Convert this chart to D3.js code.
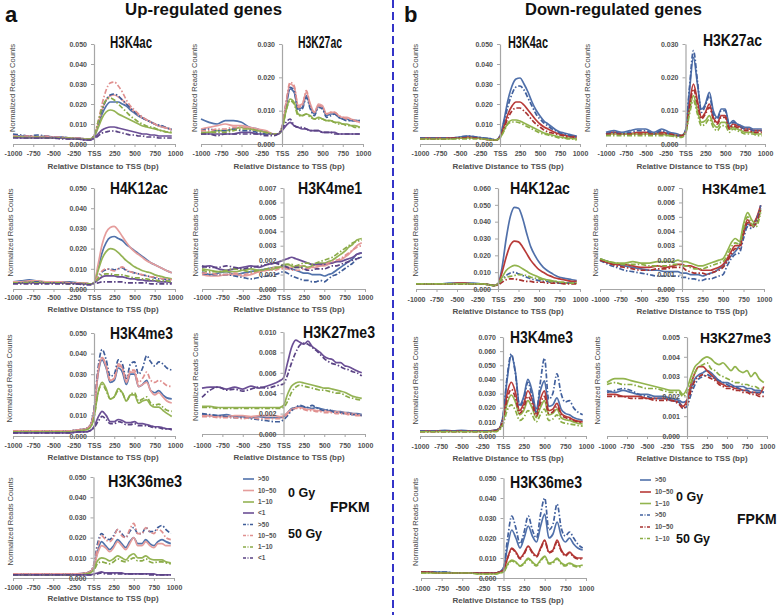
<!DOCTYPE html>
<html><head><meta charset="utf-8">
<script src="https://cdn.jsdelivr.net/npm/d3@7"></script>
<style>
body{margin:0;background:#fff}
svg{display:block}
text{font-family:"Liberation Sans",Arial,Helvetica,sans-serif}
</style></head>
<body><svg id="c" width="778" height="615"></svg>
<script>
// ---------- shared data ----------
// relative distance to TSS (bp)
const X = [-1000,-900,-800,-700,-600,-500,-400,-300,-200,-100,-50,0,50,100,150,200,250,300,350,400,450,500,550,600,650,700,750,800,850,900,960];
const XTICKS = [-1000,-750,-500,-250,0,250,500,750,1000];
const XTICK_LABELS = ["-1000","-750","-500","-250","TSS","250","500","750","1000"];
// series order, panel a: 0 Gy (>50,10~50,1~10,<1), 50 Gy (>50,10~50,1~10,<1)
const A_GROUPS = [">50","10~50","1~10","<1",">50","10~50","1~10","<1"];
const A_DOSE = ["0 Gy","0 Gy","0 Gy","0 Gy","50 Gy","50 Gy","50 Gy","50 Gy"];
// series order, panel b: 0 Gy (>50,10~50,1~10), 50 Gy (>50,10~50,1~10)
const B_GROUPS = [">50","10~50","1~10",">50","10~50","1~10"];
const B_DOSE = ["0 Gy","0 Gy","0 Gy","50 Gy","50 Gy","50 Gy"];

// values in units of 0.001 normalized reads counts
const up_H3K4ac = [
 [4.5,4,4,3.5,4,3.5,3.5,3,3,2.5, 2.5,4, 9,15,19,21,21,21,20,19,17,15.5,14,13,12,11,10,9,8.5,8,7],
 [4,3.5,4,3.5,3.5,3.5,3,3,3,2.5, 2.5,4, 10,17,22,24,24.5,23.5,22,20,18,16,14.5,13,12,11,10,9,8.5,8,7],
 [3.5,3.5,3.5,3,3.5,3,3,3,2.5,2.5, 2.5,3.5, 8,13,16,17,16.5,15,14,13,12,11,10,9,8.5,8,7.5,7,6.5,6,5.5],
 [3.5,3,3,3,3,3,3,2.5,2.5,2, 2,3, 5,7,8,8.5,8.5,8,7.5,7,6.5,6,5.5,5,5,4.5,4.5,4,4,4,4],
 [5,4.5,4,4.5,4,3.5,3.5,3,3,2.5, 2.5,4, 10,17,22,24.5,25,24,22,20,18,16,14.5,13,12,11,10,9.5,9,8,7.5],
 [4,4,4,3.5,4,3.5,3.5,3,3,2.5, 2.5,4, 11,20,27,30.5,31,29,26,22,19,17,15,13.5,12,11,10,9,8.5,8,7.5],
 [3.5,3.5,3,3.5,3,3,3,3,2.5,2.5, 2.5,4, 11,18,22,23,22,20,18,16,14,12.5,11,10,9,8.5,8,7,6.5,6,6],
 [3,3,3,3,3,3,2.5,2.5,2.5,2, 2,2.5, 4,5.5,6,6.5,6.5,6,5.5,5,4.5,4.5,4,4,3.5,3.5,3.5,3,3,3,3]
];
const up_H3K27ac = [
 [7.5,6.5,6,7,7,6.5,5,4.5,3.5,3, 3,4.5, 11,16.5,15.5,10.5,11,14.5,11,9,11.5,11,8.5,9,9,8,7.5,7.5,7,7,7],
 [4.5,5,5.5,6,5.5,5.5,5,4.5,4,3, 3,5, 12,18,17,11.5,12,15.5,12,9.5,12,11.5,9,9.5,9.5,8.5,8,8,7.5,7,6.5],
 [3.5,3.5,4,4,4.5,5,4.5,4,3.5,3, 3,4.5, 10,13.5,12.5,9,8.5,9,8.5,7.5,8,7.5,7,7,6.5,6.5,6,6,5.5,5.5,5],
 [3,3,3,3,3,3.5,3.5,3,3,3, 3,4, 5.5,6.5,5.5,5,4.5,4.5,4,4,4,3.5,3.5,3.5,3.5,3,3,3,3,3,3],
 [4,4.5,4,4,4.5,4,4,3.5,3,3, 3,5, 12,17,16,10,10.5,14,10.5,8.5,11,10.5,8,8.5,9,8,7.5,7,7,7,7],
 [4,4,4.5,4.5,5,5,4.5,4,3.5,3, 3,5, 12.5,18.5,17.5,11,11.5,16,11.5,9.5,11.5,11,9,9.5,9.5,8.5,8,7.5,7.5,7,6.5],
 [3,3.5,3.5,3.5,4,4.5,4.5,4,3.5,3, 3,4.5, 10,13,12,8.5,8.5,9,8,7.5,7.5,7.5,7,7,6.5,6,6,5.5,5.5,5,5],
 [3,3,2.5,3,3,3,3,3,2.5,2.5, 3,4.5, 6.5,7.5,5.5,5,5,4.5,4,4,4,3.5,3.5,3.5,3,3,3,3,3,3,3]
];
const up_H4K12ac = [
 [3.5,4,4.5,4,3.5,3.5,3.5,3.5,3,3, 2.5,3, 10,18,23,25.5,26,25,24,22,20.5,19,17.5,16,14.5,13,12,11,10,9,8],
 [3.5,3.5,4,4,3.5,3.5,3.5,3,3,3, 2.5,3, 12,22,28,30.5,31,29,26,23,20.5,18.5,17,15.5,14,13,12,11,10,9,8],
 [3,3,3.5,3.5,3,3,3,3,3,2.5, 2.5,3, 9,15,18.5,20,19.5,18,16,14,12.5,11,10,9,8.5,8,7,6.5,6,5.5,5],
 [3,3,3,3,3,3,3,3,2.5,2.5, 2.5,3, 4.5,6,6.5,6.5,6.5,6,6,5.5,5,5,4.5,4.5,4,4,4,3.5,3.5,3.5,3],
 [3,3,3.5,3.5,3,3,3,3,3,2.5, 2.5,3, 6,8.5,9.5,10,9.5,10,10.5,9,8.5,8,7.5,7,6.5,6,5.5,5,5,4.5,4.5],
 [3,3,3.5,3,3,3,3,3,3,2.5, 2.5,3, 6.5,9,10,9.5,9,10,11,9.5,8.5,8,7.5,7,6.5,6,6,5.5,5,5,4.5],
 [3,3,3,3,3,3,3,2.5,2.5,2.5, 2.5,3, 5,7,7.5,7.5,7,7,7,6.5,6,5.5,5.5,5,5,4.5,4.5,4,4,4,3.5],
 [2.5,2.5,2.5,2.5,2.5,2.5,2.5,2.5,2.5,2, 2,2.5, 3,3.5,3.5,3.5,3.5,3.5,3.5,3,3,3,3,3,3,2.5,2.5,2.5,2.5,2.5,2.5]
];
const up_H3K4me1 = [
 [1.2,1.0,1.1,1.2,1.0,1.1,1.2,1.3,1.4,1.5, 1.5,1.6, 1.5,1.4,1.3,1.2,1.1,1.1,1.0,1.0,1.0,0.9,1.0,1.1,1.3,1.5,1.7,1.9,2.1,2.4,2.5],
 [1.0,0.9,0.9,1.0,1.0,0.9,1.0,1.2,1.3,1.5, 1.5,1.5, 1.5,1.5,1.6,1.6,1.6,1.5,1.5,1.5,1.6,1.6,1.7,1.8,1.9,2.0,2.2,2.4,2.7,3.0,3.2],
 [1.4,1.3,1.2,1.2,1.2,1.3,1.4,1.3,1.3,1.4, 1.5,1.7, 1.7,1.6,1.5,1.5,1.6,1.5,1.6,1.7,1.8,1.8,1.9,2.0,2.2,2.4,2.6,2.9,3.1,3.4,3.5],
 [1.5,1.6,1.4,1.3,1.4,1.5,1.6,1.5,1.7,1.8, 1.9,2.0, 2.1,2.2,2.1,2.0,1.9,1.8,1.7,1.7,1.7,1.7,1.8,1.8,1.9,1.9,2.0,2.1,2.2,2.4,2.5],
 [1.1,1.0,1.0,1.0,0.9,0.8,0.7,0.8,0.9,1.0, 1.1,1.2, 1.1,0.9,0.8,0.7,0.6,0.6,0.5,0.5,0.6,0.5,0.7,0.9,1.0,1.2,1.4,1.6,1.8,2.1,2.2],
 [1.1,1.1,1.0,1.0,1.1,1.0,1.1,1.2,1.3,1.3, 1.4,1.4, 1.4,1.3,1.3,1.3,1.4,1.4,1.5,1.6,1.6,1.7,1.8,1.9,2.0,2.1,2.3,2.5,2.7,2.9,3.0],
 [1.3,1.2,1.2,1.3,1.4,1.3,1.2,1.3,1.4,1.5, 1.5,1.6, 1.7,1.7,1.6,1.7,1.8,1.8,1.7,1.8,1.9,2.0,2.1,2.2,2.4,2.6,2.8,3.0,3.2,3.3,3.4],
 [1.6,1.5,1.5,1.6,1.5,1.4,1.5,1.6,1.7,1.8, 1.7,1.6, 1.5,1.4,1.5,1.5,1.4,1.3,1.3,1.4,1.4,1.4,1.5,1.6,1.6,1.7,1.8,1.9,2.0,2.1,2.2]
];
const up_H3K4me3 = [
 [2.5,2.5,2.5,2.5,2.5,2.5,2.5,2.5,3,3.5, 5,12, 30,37,33,26,27,33,31,25,30,30,24,25,27,22,21,22,20,18.5,18],
 [2.5,2.5,2.5,2.5,2.5,2.5,2.5,2.5,3,3.5, 5,12, 31,38,34,27,28,35,33,26,31,31,24,25,26,22,20,21,19,17,16],
 [2,2,2,2,2,2,2,2,2.5,3, 4,9, 21,26,23,18,19,23,21,17,20,20,16,17,17.5,15,14,14,12.5,11,9.5],
 [1.5,1.5,1.5,1.5,1.5,1.5,1.5,1.5,2,2, 2.5,4.5, 9,12,10,7,7,8,7.5,6.5,6.5,7,6,6,5.5,5,4.5,4.5,4,3.5,3.5],
 [2.5,2.5,2.5,2.5,2.5,2.5,2.5,2.5,3,3.5, 5,13, 33,42,37,29,30,37,35,28,35,36,30,33,39,36,34,36,35,33,32],
 [2.5,2.5,2.5,2.5,2.5,2.5,2.5,2.5,3,3.5, 5,12, 31,38,34,27,28,34,33,27,32,32,26,28,31,27,26,27,26,24.5,24],
 [2,2,2,2,2,2,2,2,2.5,3, 4,9, 21,25,22,18,19,22,21,17,20,21,17,18,19,16,15,15.5,14,12.5,12],
 [1.5,1.5,1.5,1.5,1.5,1.5,1.5,1.5,2,2, 2.5,4, 7,9.5,8,6,6,7,6.5,5.5,5.5,6,5,5,5,4.5,4,4,3.5,3.5,3]
];
const up_H3K27me3 = [
 [1.9,1.8,1.8,1.9,1.7,1.7,1.6,1.7,1.6,1.6, 1.6,1.7, 2.1,2.5,2.6,2.7,2.6,2.6,2.5,2.6,2.5,2.4,2.3,2.3,2.2,2.2,2.1,2.1,2.0,2.0,1.9],
 [1.8,1.8,1.7,1.7,1.8,1.8,1.7,1.8,1.8,1.8, 1.7,1.8, 2.1,2.4,2.6,2.6,2.5,2.4,2.4,2.3,2.3,2.3,2.2,2.2,2.2,2.1,2.1,2.0,2.0,1.9,1.8],
 [2.7,2.7,2.6,2.6,2.6,2.6,2.6,2.6,2.6,2.6, 2.6,2.8, 3.9,4.7,5.0,5.1,5.0,4.9,4.8,4.7,4.6,4.5,4.5,4.4,4.3,4.2,4.1,3.9,3.7,3.6,3.5],
 [4.5,4.6,4.6,4.4,4.6,4.4,4.7,4.5,4.7,5.0, 5.2,5.5, 7.0,8.5,9.2,9.0,8.8,9.1,8.6,8.3,8.0,7.6,7.4,7.3,7.0,7.0,6.7,6.6,6.4,6.2,6.0],
 [2.0,1.9,1.8,1.7,1.6,1.6,1.5,1.4,1.3,1.2, 1.2,1.4, 1.8,2.3,2.6,2.8,2.7,2.6,2.8,2.6,2.4,2.3,2.4,2.2,2.1,2.1,2.0,2.0,1.9,1.9,1.8],
 [1.7,1.7,1.6,1.6,1.6,1.5,1.6,1.5,1.5,1.5, 1.5,1.6, 2.0,2.4,2.5,2.5,2.4,2.3,2.3,2.2,2.2,2.1,2.1,2.1,2.0,2.0,2.0,1.9,1.9,1.8,1.8],
 [2.6,2.6,2.5,2.5,2.5,2.5,2.5,2.5,2.5,2.5, 2.5,2.6, 3.2,4.1,4.6,4.8,4.7,4.6,4.5,4.4,4.3,4.3,4.2,4.1,4.0,4.0,3.8,3.6,3.5,3.4,3.3],
 [3.6,4.3,4.6,4.3,4.4,4.2,4.4,4.6,4.5,4.7, 4.8,4.9, 5.8,7.0,8.0,8.7,8.9,8.8,8.5,8.2,7.8,7.4,7.1,6.9,6.8,6.6,6.4,6.3,6.1,6.0,5.7]
];
const up_H3K36me3 = [
 [2,2,2,2,2,2,2,2,2,2.5, 3,5, 13,18,16,14,16,19,17,15,18,20,17,17,19,17,16,18,19,18,17],
 [2,2,2,2,2,2,2,2,2,2.5, 3,5, 12,16,15,13,15,18,16,14,17,20,16,16,18,16,15,17,17,16,16],
 [1.5,1.5,1.5,1.5,1.5,1.5,1.5,1.5,1.5,2, 2.5,4, 8.5,10,9.5,8.5,9.5,11,10,9,11,12,10,10,11,9.5,9,9,9,8,7.5],
 [1.5,1.5,1.5,1.5,1.5,1.5,1.5,1.5,1.5,1.5, 1.5,2, 2.5,3,2.5,2.5,2.5,2.5,2.5,2,2,2,2,2,2,2,2,1.5,1.5,1.5,1.5],
 [2,2,2,2,2,2,2,2,2,2.5, 3,6, 17,22,20,19,21,24,22,20,23,25,22,22,25,23,23,25,26,24,22],
 [2,2,2,2,2,2,2,2,2,2.5, 3,6, 15,21,19,18,20,24,21,20,24,27,22,22,25,23,22,24,23,20,19],
 [1.5,1.5,1.5,1.5,1.5,1.5,1.5,1.5,1.5,2, 2.5,3.5, 7,8,7.5,7,8,9.5,8.5,8,9,10,8.5,8.5,9.5,8,7.5,8,8,7.5,7],
 [1.5,1.5,1.5,1.5,1.5,1.5,1.5,1.5,1.5,1.5, 1.5,1.5, 2,2.5,2,2,2,2,2,2,2,2,2,2,2,1.5,1.5,1.5,1.5,1.5,1.5]
];

const down_H3K4ac = [
 [3,3,3,3,3,3.5,4,3.5,3,2.5, 2,4, 12,22,29,32.5,33,30,26,21,17,14,11.5,10,8.5,7,6,5.5,5,4.5,4],
 [3,3,3,3,3,3,3.5,3,2.5,2, 2,3.5, 9,15,19,21,21,19.5,17,14.5,12,10,8.5,7.5,6.5,5.5,5,4.5,4,3.8,3.5],
 [2.5,2.5,2.5,2.5,2.5,3,3,3,2.5,2, 2,3, 7,10.5,12,12,11.5,10.5,9.5,8.5,7.5,6.5,5.5,5,4.5,4,3.5,3.2,3,2.8,2.5],
 [3,3,3,3,3,3.5,4,3.5,3,2.5, 2,4, 11,19,25,28.5,29,27,23,19,15,12.5,10.5,9,7.5,6.5,5.5,5,4.5,4,3.5],
 [2.5,2.5,2.5,2.5,3,3,3,3,2.5,2, 2,3.5, 8,13,16.5,18,18,16.5,14.5,12,10,8.5,7,6,5.5,5,4.5,4,3.5,3.5,3],
 [2.5,2.5,2.5,2.5,2.5,2.5,2.5,2.5,2.5,2, 2,3, 6.5,10,11,11,10.5,9.5,8.5,7.5,6.5,5.5,5,4.5,4,3.5,3,3,2.5,2.5,2]
];
const down_H3K27ac = [
 [3.5,4,3.5,4,4.5,4.5,3.5,4.5,3.5,3, 2.5,4, 16,26,18,10.5,12,15.5,10,8,10.5,10.5,6,7,6,5.5,5,5,4.5,4.5,4.5],
 [3,3.5,3,3,3.5,3.5,3,3.5,3,2.5, 2.5,3.5, 12,18,13,8,9.5,12,8,6.5,8.5,8.5,5,6,5.5,5,4.5,4.5,4,4,4],
 [3,3,3,3,3,3,3,3,2.5,2.5, 2.5,3.5, 10,14.5,10,6.5,7,8.5,6,5,6.5,6.5,4.5,5,4.5,4,3.5,3.5,3.5,3,3],
 [3,3.5,3,3.5,4,4,3,4,3,2.5, 2.5,4, 17,28,19,9.5,11.5,14.5,9,7.5,10,10,5.5,6.5,6,5,4.5,4.5,4,4,4],
 [3,3,3,3,3,3,3,3,3,2.5, 2.5,3.5, 11,16.5,12,7.5,9,11,7.5,6,8,8,4.5,5.5,5,4.5,4,4,3.5,3.5,3.5],
 [2.5,2.5,2.5,2.5,2.5,2.5,2.5,2.5,2.5,2, 2,3, 9,13,9,5.5,6,7.5,5,4,5.5,5.5,3.5,4.5,4,3.5,3,3,3,2.5,2.5]
];
const down_H4K12ac = [
 [3,3,3,3,3.5,3.5,3.5,3.5,3,2.5, 2,3, 13,30,43,48.5,48,42,33,25,20,16,13,11,9.5,8,7,6.5,6,5.5,5],
 [3,3,3,3,3,3.5,3.5,3,3,2.5, 2,3, 10,19,26,28.5,28,25,21,17,14,11.5,10,8.5,7.5,6.5,6,5.5,5,4.5,4.5],
 [3,3,3,3,3,3,3,3,3,2.5, 2,3, 7,11,13,14,13.5,12,10.5,9,8,7,6,5.5,5,4.5,4,4,3.5,3.5,3.5],
 [3,3,3,3,3,3,3,3,3,2.5, 2,3, 5.5,8,9.5,10,9,8,7,6,5.5,5,4.5,4.5,4,4,3.5,3.5,3.5,3.5,3.5],
 [3,3,3,3,3,3,3,3,3,2.5, 2,2.5, 4,5.5,6,6,5.5,5,4.5,4.5,4,4,4,3.5,3.5,3.5,3.5,3,3,3,3],
 [3,3,3,3,3,3,3,3,3,2.5, 2,3, 5.5,7,7.5,8,8.5,8.5,8,7,6.5,6,5.5,5,4.5,4.5,4,4,3.5,3.5,3.5]
];
const down_H3K4me1 = [
 [2.1,1.9,1.7,1.6,1.5,1.4,1.3,1.3,1.2,1.2, 1.2,1.1, 1.1,1.0,1.0,1.0,0.9,1.0,1.1,1.2,1.4,1.6,2.0,2.3,2.6,3.0,3.8,4.5,4.4,4.8,5.6],
 [2.0,1.8,1.7,1.7,1.6,1.5,1.5,1.6,1.5,1.6, 1.7,1.7, 1.6,1.6,1.5,1.4,1.3,1.3,1.3,1.4,1.5,1.7,2.1,2.6,3.0,3.0,4.0,4.8,4.4,4.8,5.8],
 [2.1,1.9,1.8,1.8,1.9,1.8,1.8,1.9,1.9,1.9, 2.0,1.9, 1.9,1.8,1.7,1.6,1.6,1.7,1.8,1.9,2.0,2.1,2.6,3.2,3.5,3.3,4.5,5.3,4.8,4.5,5.5],
 [2.0,1.7,1.5,1.3,1.2,1.1,1.0,0.9,0.9,0.9, 0.9,0.8, 0.8,0.7,0.7,0.6,0.6,0.7,0.7,0.8,0.9,1.0,1.6,2.1,2.4,2.5,3.5,4.3,4.2,4.6,5.8],
 [2.0,1.8,1.6,1.5,1.4,1.3,1.3,1.4,1.4,1.5, 1.5,1.5, 1.3,1.2,1.1,1.1,1.1,1.0,1.1,1.2,1.3,1.5,1.9,2.4,2.8,2.8,3.8,4.6,4.3,4.5,5.5],
 [2.1,1.9,1.8,1.7,1.7,1.7,1.6,1.6,1.6,1.7, 1.7,1.6, 1.6,1.5,1.4,1.4,1.4,1.5,1.6,1.7,1.8,1.9,2.3,2.9,3.2,3.1,4.2,5.0,4.5,4.3,5.3]
];
const down_H3K4me3 = [
 [3.5,3.5,3.5,4,3.5,4,3.5,3.5,3.5,4, 5,14, 40,57,45,22,28,40,32,19,32,39,21,22,27,19,16,15,13,12,11],
 [3.5,3.5,3.5,3.5,3.5,3.5,3.5,3.5,3.5,4, 5,12, 30,38,31,18,23,32,26,16,26,32,18,19,23,16,14,13,11.5,10.5,10],
 [3,3,3,3,3,3,3,3,3,3.5, 4.5,10, 23,29,24,15,18,25,20,13,20,25,15,16,19,13,11.5,11,10,9,8.5],
 [3.5,3.5,3.5,3.5,3.5,3.5,3.5,3.5,3.5,4, 5,14, 42,58,44,21,26,38,28,17,38,55,26,30,44,30,24,25,20,17,15],
 [3,3,3,3,3,3,3,3,3,3.5, 4.5,11, 26,33,27,16,20,28,23,14,23,28,16,17,21,15,13,12,11,10,9.5],
 [3,3,3,3,3,3,3,3,3,3, 4,8, 18,22,18,11,13,18,15,10,15,19,11,12,15,10,9,8.5,8,7.5,7]
];
const down_H3K27me3 = [
 [2.3,2.2,2.3,2.2,2.1,2.1,2.0,2.0,1.9,1.8, 1.7,1.8, 2.4,2.9,3.1,3.2,3.3,3.2,3.0,2.8,2.7,2.7,2.6,2.5,2.5,2.5,2.4,2.4,2.3,2.3,2.2],
 [2.1,2.1,2.0,2.0,2.0,1.9,1.9,1.9,1.8,1.7, 1.5,1.8, 2.6,3.2,3.5,3.5,3.3,3.1,2.9,2.7,2.6,2.5,2.5,2.4,2.4,2.3,2.3,2.2,2.2,2.1,2.5],
 [2.7,2.9,2.9,2.8,2.7,2.6,2.5,2.4,2.3,2.3, 2.1,2.4, 3.0,3.5,3.7,3.9,4.0,3.9,3.7,3.6,3.7,3.5,3.3,3.5,3.3,3.2,3.3,3.0,3.2,2.9,2.7],
 [2.2,2.3,2.4,2.3,2.1,2.0,1.9,1.9,1.8,1.7, 1.4,1.5, 2.1,2.6,2.9,3.0,3.1,3.0,2.9,2.8,2.7,2.6,2.5,2.5,2.4,2.3,2.3,2.2,2.2,2.2,2.2],
 [2.0,2.0,2.0,1.9,1.9,1.9,1.8,1.8,1.8,1.6, 1.4,1.6, 2.3,2.8,3.0,3.1,3.0,2.9,2.8,2.6,2.5,2.4,2.4,2.3,2.3,2.2,2.2,2.1,2.1,2.0,2.0],
 [2.6,2.7,2.6,2.6,2.5,2.4,2.4,2.3,2.2,2.2, 2.0,2.2, 2.7,3.2,3.5,3.6,3.7,3.4,3.3,3.1,3.0,2.9,2.8,2.7,2.7,2.6,2.6,2.5,2.5,2.4,2.4]
];
const down_H3K36me3 = [
 [3,3,3,3,2.5,2.5,2.5,2.5,2.5,2.5, 3,5, 16,24,20,15,20,26,21,18,26,32,20,22,28,21,18,20,17,15,14],
 [3,3,2.5,2.5,2.5,2.5,2.5,2.5,2.5,2.5, 3,4, 10,15,13,10,12.5,16,13,11,15,19,13,14,19,14,11.5,13,11,10,10],
 [2.5,2.5,2.5,2.5,2.5,2.5,2.5,2,2,2, 2.5,3, 7,9,8,6,7.5,10,8,6.5,9,11,7.5,8,10,7.5,6.5,7.5,6.5,6,6.5],
 [3,3,3,3,2.5,2.5,2.5,2.5,2.5,2.5, 3,5, 20,31,25,17,23,31,24,20,32,40,24,27,37,25,21,23,20,17,15],
 [3,3,2.5,2.5,2.5,2.5,2.5,2.5,2.5,2.5, 3,4, 10,14.5,12.5,9.5,12,15.5,12.5,10.5,14.5,18.5,12.5,13.5,18,13.5,11,12.5,10.5,9.5,9.5],
 [2.5,2.5,2.5,2.5,2.5,2.5,2.5,2,2,2, 2.5,3, 6.5,8.5,7.5,6,7,9.5,7.5,6,8.5,10.5,7,7.5,9.5,7,6,7,6,5.5,6]
];

// ---------- styles ----------
const A_COLORS = ["#5172ab","#e59d9c","#94b354","#6b4f95","#3f5d99","#e0908f","#8aab48","#5a4384"];
const B_COLORS = ["#5070aa","#b83a38","#92b44e","#42619e","#a83230","#8aad44"];
const DASH = "5,2,1.5,2";
const GRAY = "#a6a6a6";

const svg = d3.select("#c");

// panel layout (positions only); fs = title font size
const panels = [
 {t:"H3K4ac",  d:up_H3K4ac,   s:"a", ymax:50, st:10, x0:13,  x1:175, yt:44,  yb:144, tx:110, tw:42, ty:48,  fs:16, ylx:12,  xtY:153, xl:103, xlY:166},
 {t:"H3K27ac", d:up_H3K27ac,  s:"a", ymax:30, st:10, x0:201, x1:363, yt:44,  yb:144, tx:298, tw:44, ty:48,  fs:16, ylx:194, xtY:153, xl:289, xlY:166},
 {t:"H3K4ac",  d:down_H3K4ac, s:"b", ymax:50, st:10, x0:420, x1:580, yt:44,  yb:144, tx:508, tw:40, ty:48,  fs:16, ylx:415, xtY:153, xl:508, xlY:166},
 {t:"H3K27ac", d:down_H3K27ac,s:"b", ymax:30, st:10, x0:606, x1:765, yt:44,  yb:144, tx:703, tw:59, ty:46,  fs:16, ylx:587, xtY:153, xl:692, xlY:166},
 {t:"H4K12ac", d:up_H4K12ac,  s:"a", ymax:50, st:10, x0:13,  x1:175, yt:188, yb:289, tx:110, tw:58, ty:194, fs:16, ylx:10,  xtY:297, xl:103, xlY:309},
 {t:"H3K4me1", d:up_H3K4me1,  s:"a", ymax:7,  st:1,  x0:202, x1:365, yt:188, yb:289, tx:298, tw:64, ty:194, fs:16, ylx:195, xtY:297, xl:289, xlY:309},
 {t:"H4K12ac", d:down_H4K12ac,s:"b", ymax:60, st:10, x0:416, x1:580, yt:188, yb:289, tx:510, tw:60, ty:194, fs:16, ylx:415, xtY:299, xl:508, xlY:311},
 {t:"H3K4me1", d:down_H3K4me1,s:"b", ymax:7,  st:1,  x0:600, x1:764, yt:188, yb:289, tx:702, tw:64, ty:194, fs:15.5, ylx:595, xtY:299, xl:692, xlY:311},
 {t:"H3K4me3", d:up_H3K4me3,  s:"a", ymax:50, st:10, x0:13,  x1:175, yt:333, yb:436, tx:110, tw:63, ty:339, fs:16, ylx:9,   xtY:445, xl:103, xlY:457},
 {t:"H3K27me3",d:up_H3K27me3, s:"a", ymax:10, st:2,  x0:202, x1:365, yt:332, yb:434, tx:303, tw:72, ty:338, fs:16, ylx:195, xtY:445, xl:289, xlY:457},
 {t:"H3K4me3", d:down_H3K4me3,s:"b", ymax:70, st:10, x0:420, x1:586, yt:337, yb:436, tx:510, tw:63, ty:343, fs:16, ylx:415, xtY:446, xl:508, xlY:458},
 {t:"H3K27me3",d:down_H3K27me3,s:"b",ymax:5,  st:1,  x0:607, x1:767, yt:337, yb:436, tx:700, tw:71, ty:343, fs:14, ylx:597, xtY:446, xl:692, xlY:458},
 {t:"H3K36me3",d:up_H3K36me3, s:"a", ymax:50, st:10, x0:13,  x1:174, yt:477, yb:578, tx:108, tw:74, ty:487, fs:16, ylx:10,  xtY:587, xl:103, xlY:598},
 {t:"H3K36me3",d:down_H3K36me3,s:"b",ymax:50, st:10, x0:421, x1:586, yt:478, yb:578, tx:510, tw:72, ty:488, fs:16, ylx:415, xtY:588, xl:508, xlY:600}
];

panels.forEach(p => {
  const x = d3.scaleLinear().domain([-1000,1000]).range([p.x0,p.x1]);
  const y = d3.scaleLinear().domain([0,p.ymax]).range([p.yb,p.yt]);
  const g = svg.append("g");
  const colors = p.s==="a" ? A_COLORS : B_COLORS;
  const nSolid = p.s==="a" ? 4 : 3;
  const line = d3.line().x((v,i)=>x(X[i])).y(v=>y(v)).curve(d3.curveMonotoneX);

  // x axis
  const xa = g.append("g").attr("transform",`translate(0,${p.yb})`)
    .call(d3.axisBottom(x).tickValues(XTICKS).tickFormat((v,i)=>XTICK_LABELS[i]).tickSize(3).tickSizeOuter(0));
  xa.select(".domain").attr("stroke",GRAY).attr("stroke-width",1.2);
  xa.selectAll(".tick line").attr("stroke",GRAY);
  xa.selectAll(".tick text").attr("y",p.xtY-p.yb+2.5).attr("dy",0)
    .attr("font-size",7).attr("font-weight","bold").attr("fill","#505050");

  // series (solid first, then dashed on top)
  const order = d3.range(p.d.length);
  g.append("g").selectAll("path").data(order).join("path")
    .attr("d",i=>line(p.d[i]))
    .attr("fill","none")
    .attr("stroke",i=>colors[i])
    .attr("stroke-width",1.7)
    .attr("stroke-dasharray",i=> i>=nSolid ? DASH : null)
    .attr("stroke-linejoin","round");

  // y axis at TSS
  const ticks = d3.range(0,p.ymax+p.st/2,p.st);
  const ya = g.append("g").attr("transform",`translate(${x(0)},0)`)
    .call(d3.axisLeft(y).tickValues(ticks).tickFormat(v=>d3.format(".3f")(v/1000)).tickSize(3).tickSizeOuter(0));
  ya.select(".domain").attr("stroke",GRAY).attr("stroke-width",1.2);
  ya.selectAll(".tick line").attr("stroke",GRAY);
  ya.selectAll(".tick text").attr("x",-7)
    .attr("font-size",7).attr("font-weight","bold").attr("fill","#505050");

  // titles and labels
  g.append("text").attr("x",p.tx).attr("y",p.ty).text(p.t)
    .attr("font-size",p.fs).attr("font-weight","bold").attr("fill","#111")
    .attr("textLength",p.tw).attr("lengthAdjust","spacingAndGlyphs");
  const cy = (p.yt+p.yb)/2 - 6;
  g.append("text").attr("transform",`translate(${p.ylx},${cy}) rotate(-90)`)
    .attr("text-anchor","middle").attr("dy","0.35em").text("Normalized Reads Counts")
    .attr("font-size",8).attr("fill","#444")
    .attr("textLength",88).attr("lengthAdjust","spacingAndGlyphs");
  g.append("text").attr("x",p.xl).attr("y",p.xlY).attr("dy","0.35em").attr("text-anchor","middle")
    .text("Relative Distance to TSS (bp)")
    .attr("font-size",8).attr("font-weight","bold").attr("fill","#505050");
});

// ---------- headers ----------
svg.append("text").attr("x",5).attr("y",22).text("a").attr("font-size",22).attr("font-weight","bold").attr("fill","#111");
svg.append("text").attr("x",404).attr("y",22).text("b").attr("font-size",22).attr("font-weight","bold").attr("fill","#111");
svg.append("text").attr("x",125).attr("y",15).text("Up-regulated genes").attr("font-size",17).attr("font-weight","bold")
  .attr("fill","#111").attr("textLength",157).attr("lengthAdjust","spacingAndGlyphs");
svg.append("text").attr("x",525).attr("y",15).text("Down-regulated genes").attr("font-size",17).attr("font-weight","bold")
  .attr("fill","#111").attr("textLength",177).attr("lengthAdjust","spacingAndGlyphs");

// divider
svg.append("line").attr("x1",393).attr("x2",393).attr("y1",0).attr("y2",615)
  .attr("stroke","#3434c8").attr("stroke-width",2).attr("stroke-dasharray","8,4");

// ---------- legends ----------
function legend(x0, rows, groups, colors, nSolid){
  const g = svg.append("g");
  groups.forEach((lab,i)=>{
    const yy = rows[i];
    g.append("line").attr("x1",x0).attr("x2",x0+11).attr("y1",yy).attr("y2",yy)
      .attr("stroke",colors[i]).attr("stroke-width",1.6)
      .attr("stroke-dasharray", i>=nSolid ? "3,1.5,1,1.5" : null);
    g.append("text").attr("x",x0+15).attr("y",yy).attr("dy","0.35em").text(lab)
      .attr("font-size",6.5).attr("font-weight","bold").attr("fill","#555");
  });
}
const A_ROWS = [479,490.5,502,513,524.5,535.5,547,558];
const B_ROWS = [480,492,503.5,515,527,538.5];
legend(243, A_ROWS, A_GROUPS, A_COLORS, 4);
legend(640, B_ROWS, B_GROUPS, B_COLORS, 3);

function bigLabel(x,y,t,fs){
  svg.append("text").attr("x",x).attr("y",y).attr("dy","0.35em").text(t)
    .attr("font-size",fs).attr("font-weight","bold").attr("fill","#111");
}
bigLabel(288,493,"0 Gy",12.5);
bigLabel(288,534,"50 Gy",12.5);
bigLabel(330,507,"FPKM",14);
bigLabel(676,497,"0 Gy",12.5);
bigLabel(676,539,"50 Gy",12.5);
bigLabel(737,519,"FPKM",14);
</script></body></html>
